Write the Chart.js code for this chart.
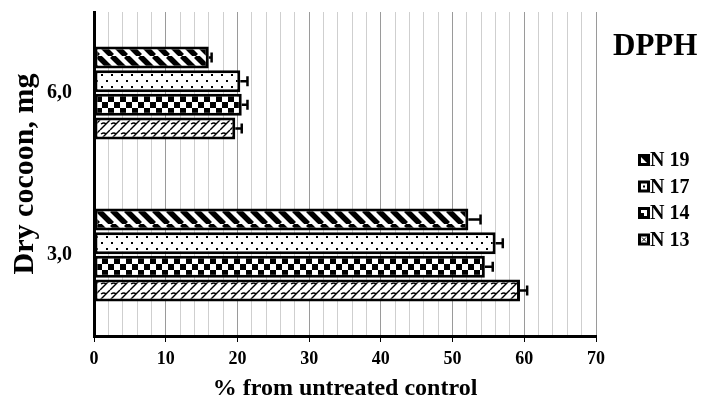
<!DOCTYPE html>
<html>
<head>
<meta charset="utf-8">
<script src="https://cdn.jsdelivr.net/npm/chart.js@4.4.0/dist/chart.umd.min.js"></script>
<style>
  html, body { margin: 0; padding: 0; background: #fff; }
  #wrap { width: 702px; height: 401px; position: relative; }
</style>
</head>
<body>
<div id="wrap"><canvas id="chart"></canvas></div>
<script>
// ── DATA ──
const categories = ['6,0', '3,0'];
const seriesNames = ['N 19', 'N 17', 'N 14', 'N 13'];
const n19 = [16.0, 52.2];
const n17 = [20.4, 56.0];
const n14 = [20.6, 54.5];
const n13 = [19.7, 59.4];
const n19Err = [0.4, 1.7];
const n17Err = [1.0, 1.0];
const n14Err = [0.8, 1.1];
const n13Err = [0.9, 1.0];
const xTickLabels = [0, 10, 20, 30, 40, 50, 60, 70];

// ── PATTERNS ──
function makePattern(w, h, draw) {
    const c = document.createElement('canvas');
    c.width = w; c.height = h;
    const g = c.getContext('2d');
    g.fillStyle = '#fff';
    g.fillRect(0, 0, w, h);
    g.fillStyle = '#000';
    g.strokeStyle = '#000';
    draw(g, w, h);
    return g.createPattern(c, 'repeat');
}

const stripes = makePattern(14, 14, (g, w, h) => {
    g.lineWidth = 5.5;
    [-w, 0, w].forEach(o => {
        g.beginPath(); g.moveTo(o, 0); g.lineTo(o + w, h); g.stroke();
    });
});
const dots = makePattern(10, 12, g => {
    g.fillRect(1, 2, 2, 2);
    g.fillRect(6, 8, 2, 2);
});
const checker = makePattern(12, 12, g => {
    g.fillRect(0, 0, 6, 6);
    g.fillRect(6, 6, 6, 6);
});
const shingle = makePattern(10, 10, (g, w, h) => {
    g.lineWidth = 1.4;
    [-w, 0, w].forEach(o => {
        g.beginPath(); g.moveTo(o, h); g.lineTo(o + w, 0); g.stroke();
    });
    g.beginPath(); g.moveTo(1, 4); g.quadraticCurveTo(4, 2, 6, 4); g.stroke();
});
const fills = [stripes, dots, checker, shingle];

// ── PLUGINS ──
const errorBars = {
    id: 'errorBars',
    afterDatasetsDraw(chart) {
        const { ctx, scales: { x } } = chart;
        ctx.save();
        ctx.strokeStyle = '#000';
        ctx.lineWidth = 2.5;
        chart.data.datasets.forEach((ds, i) => {
            chart.getDatasetMeta(i).data.forEach((bar, j) => {
                const x0 = x.getPixelForValue(ds.data[j]);
                const x1 = x.getPixelForValue(ds.data[j] + ds.errors[j]);
                ctx.beginPath();
                ctx.moveTo(x0, bar.y); ctx.lineTo(x1, bar.y);
                ctx.moveTo(x1, bar.y - 5); ctx.lineTo(x1, bar.y + 5);
                ctx.stroke();
            });
        });
        ctx.restore();
    }
};

function drawIcon(ctx, i, x, y) {
    ctx.fillStyle = '#000';
    ctx.fillRect(x, y, 12, 12);
    ctx.fillStyle = '#fff';
    ctx.fillRect(x + 3, y + 3, 6, 6);
    ctx.fillStyle = '#000';
    if (i === 0) {
        ctx.beginPath(); ctx.moveTo(x + 3, y + 3); ctx.lineTo(x + 9, y + 3); ctx.lineTo(x + 9, y + 9); ctx.fill();
    } else if (i === 1) {
        ctx.fillRect(x + 5, y + 5, 2, 2);
    } else if (i === 2) {
        ctx.fillRect(x + 3, y + 6, 3, 3);
    } else {
        ctx.strokeStyle = '#000'; ctx.lineWidth = 1;
        ctx.beginPath();
        ctx.moveTo(x + 4, y + 4); ctx.lineTo(x + 8, y + 8);
        ctx.moveTo(x + 8, y + 4); ctx.lineTo(x + 4, y + 8);
        ctx.stroke();
    }
}

const sideText = {
    id: 'sideText',
    afterDraw(chart) {
        const ctx = chart.ctx;
        ctx.save();
        ctx.fillStyle = '#000';
        ctx.textBaseline = 'alphabetic';
        ctx.font = "bold 31px 'Liberation Serif', serif";
        ctx.fillText('DPPH', 613, 55);
        ctx.font = "bold 20px 'Liberation Serif', serif";
        seriesNames.forEach((name, i) => {
            const base = 166 + i * 26.5;
            drawIcon(ctx, i, 638, base - 12);
            ctx.fillStyle = '#000';
            ctx.fillText(name, 650, base);
        });
        ctx.restore();
    }
};

// ── CHART ──
Chart.defaults.font.family = "'Liberation Serif', serif";
Chart.defaults.font.weight = 'bold';
Chart.defaults.color = '#000';

const seriesData = [n19, n17, n14, n13];
const seriesErr = [n19Err, n17Err, n14Err, n13Err];

new Chart(document.getElementById('chart'), {
    type: 'bar',
    data: {
        labels: categories,
        datasets: seriesNames.map((name, i) => ({
            label: name,
            data: seriesData[i],
            errors: seriesErr[i],
            backgroundColor: fills[i],
            borderColor: '#000',
            borderWidth: 3,
            borderSkipped: false,
            categoryPercentage: 0.585,
            barPercentage: 0.93,
        }))
    },
    options: {
        indexAxis: 'y',
        responsive: true, maintainAspectRatio: false,
        animation: false,
        layout: { padding: { top: 12, right: 106, bottom: 0, left: 0 } },
        plugins: { legend: { display: false }, tooltip: { enabled: false } },
        scales: {
            x: {
                min: 0, max: 70,
                afterFit: s => { s.height = 65; s.paddingLeft = 0; s.paddingRight = 0; },
                grid: {
                    color: c => (c.tick && c.tick.value % 10 === 0) ? '#9a9a9a' : '#cfcfcf',
                    tickColor: c => (c.tick && c.tick.value % 10 === 0) ? '#000' : 'rgba(0,0,0,0)',
                    tickLength: 6,
                    lineWidth: 1,
                },
                border: { color: '#000', width: 3 },
                ticks: {
                    stepSize: 2, autoSkip: false, maxRotation: 0, padding: 7,
                    font: { size: 18 },
                    callback: v => xTickLabels.includes(v) ? v : ''
                },
                title: { display: true, text: '% from untreated control', font: { size: 24 }, padding: { top: 0, bottom: -2 } }
            },
            y: {
                afterFit: s => { s.width = 94; s.paddingTop = 0; s.paddingBottom = 0; },
                grid: { display: false, drawTicks: false },
                border: { color: '#000', width: 3 },
                ticks: { padding: 22, font: { size: 20 } },
                title: { display: true, text: 'Dry cocoon, mg', font: { size: 30 }, padding: { top: 7, bottom: 0 } }
            }
        }
    },
    plugins: [errorBars, sideText]
});
</script>
</body>
</html>
